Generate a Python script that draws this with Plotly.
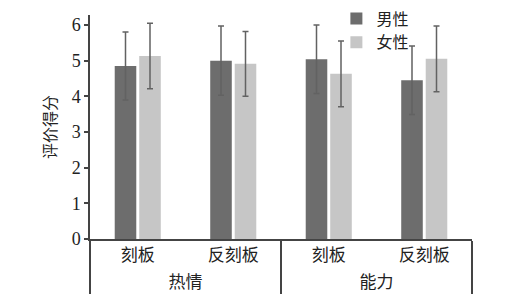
import plotly.graph_objects as go

dims = ["热情", "热情", "能力", "能力"]
conds = ["刻板", "反刻板", "刻板", "反刻板"]
male = [4.85, 5.00, 5.04, 4.45]
male_err = [0.95, 0.97, 0.96, 0.96]
female = [5.13, 4.91, 4.63, 5.05]
female_err = [0.92, 0.91, 0.92, 0.92]

cjk = "Noto Sans CJK SC"
fig = go.Figure()
fig.add_trace(go.Bar(
    x=[dims, conds], y=male, name="男性", marker=dict(color="#6d6d6d", line=dict(width=0)),
    error_y=dict(type="data", array=male_err, color="#626262", thickness=1.5, width=3),
))
fig.add_trace(go.Bar(
    x=[dims, conds], y=female, name="女性", marker=dict(color="#c6c6c6", line=dict(width=0)),
    error_y=dict(type="data", array=female_err, color="#626262", thickness=1.5, width=3),
))

fig.update_layout(
    width=516, height=300,
    margin=dict(l=90, r=44, t=15, b=61, autoexpand=False),
    paper_bgcolor="white", plot_bgcolor="white",
    barmode="group", bargap=0.487, bargroupgap=0.12,
    font=dict(family=cjk, color="#222", size=16),
    legend=dict(x=0.645, y=0.995, xanchor="left", yanchor="top", yref="container",
                font=dict(family=cjk, size=16, color="#222"),
                bgcolor="rgba(0,0,0,0)", tracegroupgap=0, itemclick=False),
    showlegend=True,
)
fig.update_xaxes(
    type="multicategory", range=[-0.5, 3.5], automargin=False,
    showline=True, linecolor="#444", linewidth=1.5,
    showgrid=False, ticks="", showdividers=True, dividercolor="#444", dividerwidth=1.5,
    tickfont=dict(family=cjk, size=17, color="#222"),
)
fig.update_yaxes(
    range=[0, 6.28], tickvals=[0, 1, 2, 3, 4, 5, 6], automargin=False,
    showline=True, linecolor="#444", linewidth=1.5,
    ticks="outside", ticklen=4, tickcolor="#444", tickwidth=1.5,
    showgrid=False, zeroline=False,
    tickfont=dict(family="Liberation Serif, Times New Roman, serif", size=18, color="#222"),
    title=dict(text="评价得分", font=dict(family=cjk, size=16, color="#222"), standoff=11),
)

fig.write_html("out.html")
